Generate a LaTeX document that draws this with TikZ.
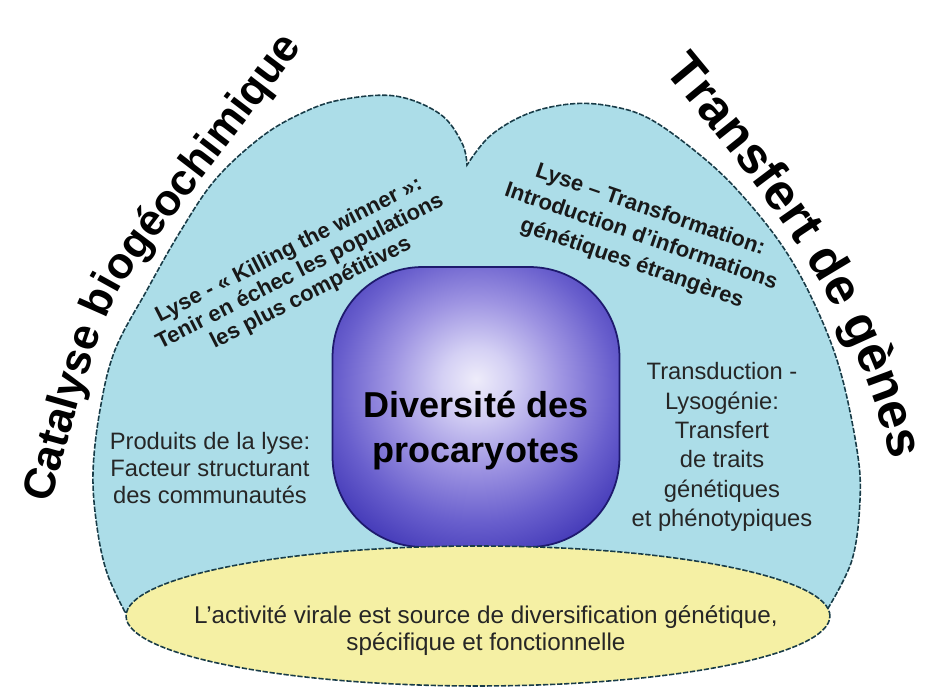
\documentclass[tikz,border=0pt]{standalone}
\usepackage{fontspec}
\setmainfont{Liberation Sans}
\usetikzlibrary{positioning, shapes.geometric, decorations.text}

\definecolor{lobeblue}{RGB}{172,221,232}
\definecolor{lobeline}{RGB}{25,60,72}
\definecolor{baseyellow}{RGB}{245,240,164}
\definecolor{coreline}{RGB}{30,26,110}
\definecolor{coreA}{RGB}{238,236,250}
\definecolor{coreB}{RGB}{212,208,244}
\definecolor{coreC}{RGB}{158,148,226}
\definecolor{coreD}{RGB}{105,95,205}
\definecolor{coreE}{RGB}{70,60,185}
\definecolor{coreF}{RGB}{48,40,158}
\definecolor{coreG}{RGB}{36,30,128}
\pgfdeclareradialshading{coreshade}{\pgfpoint{0bp}{5bp}}{color(0bp)=(coreA); color(6bp)=(coreB); color(15bp)=(coreC); color(24bp)=(coreD); color(31bp)=(coreE); color(36bp)=(coreF); color(40bp)=(coreG); color(75bp)=(coreG)}

\begin{document}
\begin{tikzpicture}[x=0.02cm, y=0.02cm,
  % Region Styles
  lobe/.style={fill=lobeblue, draw=lobeline, line width=0.9pt, dash pattern=on 3pt off 1pt},
  basenode/.style={ellipse, fill=baseyellow, draw=lobeline, line width=0.9pt, dash pattern=on 3pt off 1pt, minimum width=14.08cm, minimum height=2.8cm, inner sep=0pt},
  corenode/.style={rectangle, rounded corners=1.8cm, shading=coreshade, draw=coreline, line width=1pt, minimum width=5.74cm, minimum height=5.6cm},
  % Text Styles
  coretext/.style={font=\bfseries\fontsize{20.5}{25.6}\selectfont, align=center, text=black, inner sep=0pt},
  note/.style={font=\fontsize{13.5}{15.8}\selectfont, align=center, text=black!85, inner sep=0pt},
  slanted/.style={font=\bfseries\fontsize{12.5}{13.7}\selectfont, align=center, text=black!90, inner sep=0pt},
  arctitle/.style={decorate, decoration={text along path, text align=center, text color=black}}
]
\useasboundingbox (0,0) rectangle (927,-695);

% Blue lobes
\draw[lobe] plot[smooth, tension=0.6] coordinates {(125,-612) (107,-573) (97,-527) (93,-473) (100,-410) (115,-350) (147,-290) (180,-232) (215,-180) (260,-138) (300,-114) (340,-100) (395,-96) (440,-114) (462,-143) (467,-165)}
  -- plot[smooth, tension=0.6] coordinates {(467,-165) (490,-136) (527,-114) (570,-104) (610,-106) (650,-119) (700,-155) (740,-193) (783,-247) (815,-305) (840,-370) (857,-450) (860,-500) (852,-560) (827,-610)}
  -- (478,-650) -- cycle;

% Centre and base
\node[corenode] (core) at (476,-407) {};
\node[basenode] (viral) at (478,-616) {};

% Titles along the arcs
\path[arctitle, decoration={text={|\bfseries\fontsize{25}{30}\selectfont|Catalyse biogéochimique}}]
  (50,-505) .. controls (72,-430) and (95,-330) .. (122,-285) .. controls (150,-245) and (240,-130) .. (303,-46);
\path[arctitle, decoration={text={|\bfseries\fontsize{29}{35}\selectfont|Transfert de gènes}}]
  (657,-63) .. controls (716,-135) and (794,-225) .. (838,-315) .. controls (865,-372) and (884,-420) .. (892,-470);

% Texts
\node[coretext] (coretxt) at (476,-431) {Diversité des\\procaryotes};
\node[slanted, rotate=27] (killtxt) at (300,-272) {Lyse - « Killing the winner »:\\Tenir en échec les populations\\les plus compétitives};
\node[slanted, rotate=-19, font=\bfseries\fontsize{12.5}{16}\selectfont] (transftxt) at (641,-237) {Lyse -- Transformation:\\Introduction d'informations\\génétiques étrangères};
\node[note, font=\fontsize{13.5}{15.6}\selectfont] (produitstxt) at (210,-468) {Produits de la lyse:\\Facteur structurant\\des communautés};
\node[note, font=\fontsize{13.5}{16.7}\selectfont] (transdtxt) at (722,-447) {Transduction -\\Lysogénie:\\Transfert\\de traits\\génétiques\\et phénotypiques};
\node[note, font=\fontsize{13.8}{15.4}\selectfont] (viraltxt) at (486,-631) {L'activité virale est source de diversification génétique,\\spécifique et fonctionnelle};

\end{tikzpicture}
\end{document}
